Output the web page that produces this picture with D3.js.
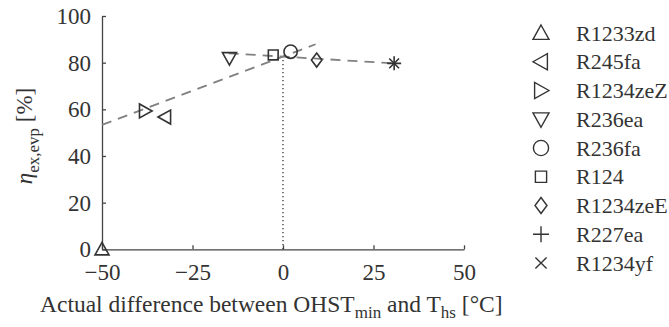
<!DOCTYPE html>
<html>
<head>
<meta charset="utf-8">
<script src="https://cdn.jsdelivr.net/npm/d3@7"></script>
<style>
  body { margin: 0; background: #fff; }
  svg text { font-family: 'Liberation Serif', 'Tinos', 'Times New Roman', 'DejaVu Serif', 'Noto Serif', serif; }
</style>
</head>
<body>
<div id="chart"></div>
<script>
// data
var refrigerants = ["R1233zd", "R245fa", "R1234zeZ", "R236ea", "R236fa", "R124", "R1234zeE", "R227ea", "R1234yf"];
var markerShapes = ["up", "left", "right", "down", "circle", "square", "diamond", "plus", "cross"];
var diffValues = [-50, -32.6, -38.1, -14.8, 2.1, -2.7, 9.3, 30.7, 30.7];
var etaValues = [0, 56.7, 59.3, 81.9, 84.7, 83.3, 81.1, 79.7, 79.7];

// the two dashed trend lines and the dotted marker at their crossing
var trendLowX = [-50, 9];
var trendLowY = [53.3, 87.9];
var trendHighX = [-15, 30.7];
var trendHighY = [84, 79.7];
var crossX = [0, 0];
var crossY = [0, 82.6];

var xTicks = [-50, -25, 0, 25, 50];
var yTicks = [0, 20, 40, 60, 80, 100];

var width = 669, height = 327;
var textColor = "#333";

var svg = d3.select("#chart").append("svg")
    .attr("width", width)
    .attr("height", height)
    .attr("font-size", 23);

var x = d3.scaleLinear().domain([-50, 50]).range([102, 464]);
var y = d3.scaleLinear().domain([0, 100]).range([249.3, 16]);

var axisColor = "#444";
var markColor = "#333";

// marker outline, s = half size
function markerPath(shape, s) {
    switch (shape) {
        case "up": return "M0," + (-s) + "L" + s + "," + (s * 0.8) + "L" + (-s) + "," + (s * 0.8) + "Z";
        case "down": return "M0," + s + "L" + s + "," + (-s * 0.8) + "L" + (-s) + "," + (-s * 0.8) + "Z";
        case "left": return "M" + (-s) + ",0L" + (s * 0.8) + "," + (-s) + "L" + (s * 0.8) + "," + s + "Z";
        case "right": return "M" + s + ",0L" + (-s * 0.8) + "," + (-s) + "L" + (-s * 0.8) + "," + s + "Z";
        case "circle": return d3.arc()({innerRadius: 0, outerRadius: s * 0.95, startAngle: 0, endAngle: 2 * Math.PI});
        case "square": var q = s * 0.7; return "M" + (-q) + "," + (-q) + "H" + q + "V" + q + "H" + (-q) + "Z";
        case "diamond": return "M0," + (-s) + "L" + (s * 0.75) + ",0L0," + s + "L" + (-s * 0.75) + ",0Z";
        case "plus": return "M" + (-s) + ",0H" + s + "M0," + (-s) + "V" + s;
        case "cross": var c = s * 0.7; return "M" + (-c) + "," + (-c) + "L" + c + "," + c + "M" + c + "," + (-c) + "L" + (-c) + "," + c;
    }
}

// axes, ticks pointing inward
var xAxis = svg.append("g")
    .attr("transform", "translate(0," + y(0) + ")")
    .call(d3.axisBottom(x).tickValues(xTicks).tickSizeInner(-4).tickSizeOuter(0).tickPadding(14));
var yAxis = svg.append("g")
    .attr("transform", "translate(" + x(-50) + ",0)")
    .call(d3.axisLeft(y).tickValues(yTicks).tickSizeInner(-4).tickSizeOuter(0).tickPadding(11));

[xAxis, yAxis].forEach(function(a) {
    a.attr("font-family", null).attr("font-size", 23);
    a.select(".domain").attr("stroke", axisColor).attr("stroke-width", 1.3);
    a.selectAll(".tick line").attr("stroke", axisColor).attr("stroke-width", 1.3);
    a.selectAll(".tick text").attr("fill", textColor);
});
xAxis.selectAll(".tick text").attr("dy", "0.71em");

// dotted line at the crossing
svg.append("path")
    .attr("d", d3.line()([[x(crossX[0]), y(crossY[0])], [x(crossX[1]), y(crossY[1])]]))
    .attr("stroke", "#333")
    .attr("stroke-width", 1.3)
    .attr("stroke-dasharray", "1.2,2.8")
    .attr("fill", "none");

// dashed trend lines
var trendLine = d3.line().x(function(d) { return x(d[0]); }).y(function(d) { return y(d[1]); });
[[trendLowX, trendLowY], [trendHighX, trendHighY]].forEach(function(t) {
    svg.append("path")
        .attr("d", trendLine(d3.zip(t[0], t[1])))
        .attr("stroke", "#808080")
        .attr("stroke-width", 1.8)
        .attr("stroke-dasharray", "10,7")
        .attr("fill", "none");
});

// data markers
svg.selectAll(".pt")
    .data(refrigerants)
  .enter().append("path")
    .attr("class", "pt")
    .attr("transform", function(d, i) { return "translate(" + x(diffValues[i]) + "," + y(etaValues[i]) + ")"; })
    .attr("d", function(d, i) { return markerPath(markerShapes[i], 7); })
    .attr("fill", "none")
    .attr("stroke", markColor)
    .attr("stroke-width", 1.6);

// legend
var legend = svg.append("g").selectAll(".leg")
    .data(refrigerants)
  .enter().append("g")
    .attr("transform", function(d, i) { return "translate(541," + (33 + i * 28.75) + ")"; });
legend.append("path")
    .attr("d", function(d, i) { return markerPath(markerShapes[i], 8); })
    .attr("fill", "none")
    .attr("stroke", markColor)
    .attr("stroke-width", 1.4);
legend.append("text")
    .attr("x", 35)
    .attr("dy", "0.35em")
    .attr("font-size", 22)
    .attr("fill", textColor)
    .text(function(d) { return d; });

// axis titles
var xTitle = svg.append("text")
    .attr("x", 40)
    .attr("y", 312)
    .attr("font-size", 23.5)
    .attr("fill", textColor);
xTitle.append("tspan").text("Actual difference between OHST");
xTitle.append("tspan").attr("dy", 6).attr("font-size", 17).text("min");
xTitle.append("tspan").attr("dy", -6).text(" and T");
xTitle.append("tspan").attr("dy", 6).attr("font-size", 17).text("hs");
xTitle.append("tspan").attr("dy", -6).text(" [°C]");

var yTitle = svg.append("text")
    .attr("transform", "translate(32,136) rotate(-90)")
    .attr("text-anchor", "middle")
    .attr("fill", textColor);
yTitle.append("tspan").attr("font-style", "italic").text("η");
yTitle.append("tspan").attr("dy", 7).attr("font-size", 17).text("ex,evp");
yTitle.append("tspan").attr("dy", -7).text(" [%]");
</script>
</body>
</html>
